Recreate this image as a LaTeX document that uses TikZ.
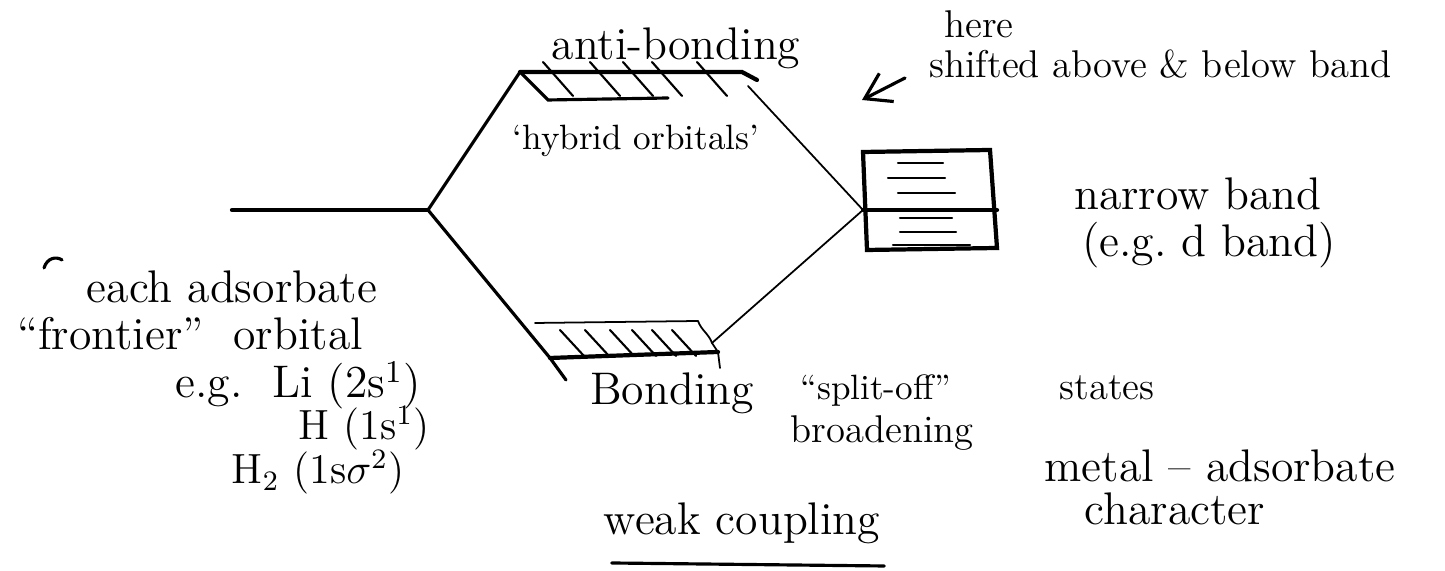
\documentclass[tikz,border=0pt]{standalone}
\usepackage{amsmath, amssymb}
\usetikzlibrary{arrows.meta, calc, positioning}

\begin{document}
\begin{tikzpicture}[
  x=0.01cm, y=-0.01cm,
  every node/.style={align=center, inner sep=1pt},
  big label/.style={font=\fontsize{13}{15}\selectfont, anchor=base},
  mid label/.style={font=\fontsize{11}{13}\selectfont, anchor=base},
  small label/.style={font=\fontsize{10}{12}\selectfont, anchor=base},
  level line/.style={line width=1.2pt, line cap=round},
  link/.style={line width=0.9pt, line cap=round},
  faint/.style={line width=0.5pt, line cap=round},
  hatch/.style={line width=0.6pt, line cap=round}
]
\useasboundingbox (0,0) rectangle (1445,571);

% adsorbate level
\coordinate (adsL) at (232,210);
\coordinate (adsR) at (428,210);
\draw[level line] (adsL) -- (adsR);

% anti-bonding band
\coordinate (abTL) at (520,72);
\coordinate (abTR) at (742,72);
\coordinate (abBL) at (548,100);
\coordinate (abBR) at (668,98);
\coordinate (abEnd) at (748,86);
\draw[level line] (abTL) -- (abTR) -- (757,80);
\draw[link] (abTL) -- (abBL) -- (abBR);
\foreach \x in {543,590,623,652,697}
  \draw[hatch] (\x,62) -- (\x+30,96);

% bonding band
\coordinate (bTL) at (535,323);
\coordinate (bTR) at (698,321);
\coordinate (bBL) at (550,358);
\coordinate (bBR) at (718,352);
\coordinate (bJoin) at (712,343);
\draw[faint] (bTL) -- (bTR);
\draw[level line] (bBL) -- (bBR);
\draw[faint] (bTR) to[out=-70,in=110] (bJoin) -- (bBR) -- (720,368);
\foreach \x in {560,585,610,632,652,672}
  \draw[hatch] (\x,330) -- (\x+24,356);

% splitting lines
\draw[link] (adsR) -- (abTL);
\draw[link] (adsR) -- (bBL) -- (566,380);

% narrow band
\coordinate (nbTL) at (863,152);
\coordinate (nbTR) at (990,150);
\coordinate (nbBR) at (997,248);
\coordinate (nbBL) at (867,250);
\coordinate (nbML) at (863,210);
\coordinate (nbMR) at (997,210);
\draw[level line] (nbTL) -- (nbTR) -- (nbBR) -- (nbBL) -- cycle;
\draw[level line] (nbML) -- (nbMR);
\foreach \y/\a/\b in {163/898/943, 178/888/945, 193/898/955, 218/900/952, 232/900/956, 245/893/970}
  \draw[hatch] (\a,\y) -- (\b,\y);
\draw[faint] (abEnd) -- (nbML);
\draw[faint] (nbML) -- (bJoin);

% labels
\node[big label] (antiLbl) at (676,60) {anti-bonding};
\node[small label] (hybLbl) at (636,150) {`hybrid orbitals'};
\node[mid label, anchor=base west] (hereLbl) at (940,38) {here};
\node[mid label, anchor=base west] (shiftLbl) at (925,78) {shifted above \& below band};
\coordinate (arrS) at (905,78);
\coordinate (arrE) at (862,100);
\draw[link, -{Straight Barb[length=7pt, width=9pt]}] (arrS) -- (arrE);

\node[big label, anchor=base west] (narrowLbl) at (1070,210) {narrow band};
\node[big label, anchor=base west] (dbandLbl) at (1078,257) {(e.g.\ d band)};

\draw[link] (44,268) .. controls (47,258) and (56,256) .. (62,260);
\node[big label] (eachLbl) at (232,303) {each adsorbate};
\node[big label] (frontLbl) at (190,350) {``frontier''\ \ orbital};
\node[big label] (liLbl) at (298,398) {e.g.\ \ Li (2s$^1$)};
\node[mid label, font=\fontsize{12}{14}\selectfont] (hLbl) at (364,440) {H (1s$^1$)};
\node[mid label, font=\fontsize{12}{14}\selectfont] (htwoLbl) at (318,484) {H$_2$ (1s$\sigma^2$)};

\node[big label] (bondLbl) at (672,405) {Bonding};
\node[small label] (splitLbl) at (876,400) {``split-off''};
\node[mid label] (statesLbl) at (1107,400) {states};
\node[mid label] (broadLbl) at (882,443) {broadening};

\node[big label] (metalLbl) at (1220,482) {metal -- adsorbate};
\node[big label] (charLbl) at (1175,525) {character};

\node[big label] (weakLbl) at (742,535) {weak coupling};
\draw[link] ($(weakLbl.base west)+(12,28)$) -- ($(weakLbl.base east)+(0,31)$);
\end{tikzpicture}
\end{document}
